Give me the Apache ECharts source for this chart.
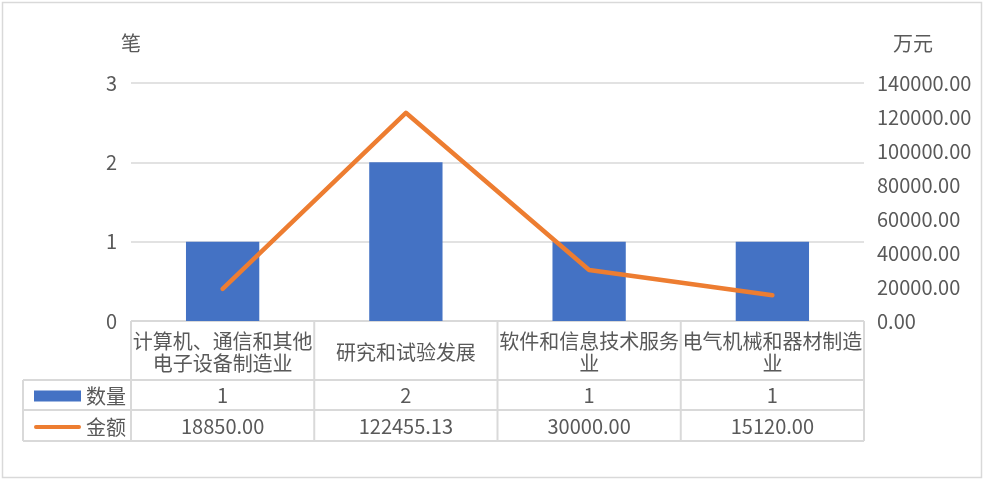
<!DOCTYPE html>
<html>
<head>
<meta charset="utf-8">
<script src="https://cdn.jsdelivr.net/npm/echarts@6/dist/echarts.min.js"></script>
<style>
  body { margin: 0; background: #fff; }
  #main { width: 984px; height: 480px; }
</style>
</head>
<body>
<div id="main"></div>
<script>
// 数据
const categories = ['计算机、通信和其他\n电子设备制造业', '研究和试验发展', '软件和信息技术服务\n业', '电气机械和器材制造\n业'];
const countData = [1, 2, 1, 1];
const amountData = [18850.00, 122455.13, 30000.00, 15120.00];
const countTicks = [0, 1, 2, 3];

// 布局
const G = { left: 131, right: 864, top: 83, bottom: 321 };
const rowY = [321, 380, 410, 441];
const legendLeft = 23;
const textColor = '#595959';
const lineColor = '#d9d9d9';
const font = 'Noto Sans CJK SC';

const chart = echarts.init(document.getElementById('main'));

// 表格线
const tableLines = [];
const colW = (G.right - G.left) / categories.length;
for (let i = 0; i <= categories.length; i++) {
  const x = G.left + colW * i;
  tableLines.push({ type: 'line', shape: { x1: x, y1: rowY[0], x2: x, y2: rowY[3] } });
}
tableLines.push({ type: 'line', shape: { x1: legendLeft, y1: rowY[1], x2: legendLeft, y2: rowY[3] } });
tableLines.push({ type: 'line', shape: { x1: G.left, y1: rowY[0], x2: G.right, y2: rowY[0] } });
for (let j = 1; j < rowY.length; j++) {
  tableLines.push({ type: 'line', shape: { x1: legendLeft, y1: rowY[j], x2: G.right, y2: rowY[j] } });
}
tableLines.forEach(l => { l.style = { stroke: lineColor, lineWidth: 2 }; l.silent = true; });

const hiddenAxis = { position: 'bottom', axisLine: { show: false }, axisTick: { show: false }, splitLine: { show: false } };
const labelBase = { color: textColor, fontSize: 20, fontFamily: font, interval: 0, verticalAlign: 'middle' };

const option = {
  animation: false,
  textStyle: { fontFamily: font },
  grid: {
    left: G.left, right: 984 - G.right, top: G.top, bottom: 480 - G.bottom,
    containLabel: false, outerBoundsMode: 'none'
  },
  legend: {
    orient: 'vertical',
    left: 29, top: 381,
    itemWidth: 47, itemHeight: 11, itemGap: 11,
    textStyle: { color: textColor, fontSize: 20, fontFamily: font },
    data: [
      { name: '数量', icon: 'rect' },
      { name: '金额', icon: 'path://M2,0 L48,0 A2,2 0 0 1 48,4 L2,4 A2,2 0 0 1 2,0 Z' }
    ]
  },
  xAxis: [
    Object.assign({
      type: 'category', data: categories,
      axisLabel: Object.assign({}, labelBase, { margin: 31, lineHeight: 22 })
    }, hiddenAxis),
    Object.assign({
      type: 'category', data: categories,
      axisLabel: Object.assign({}, labelBase, { margin: 74, formatter: (v, i) => String(countData[i]) })
    }, hiddenAxis),
    Object.assign({
      type: 'category', data: categories,
      axisLabel: Object.assign({}, labelBase, { margin: 105, formatter: (v, i) => amountData[i].toFixed(2) })
    }, hiddenAxis)
  ],
  yAxis: [
    {
      type: 'value', min: countTicks[0], max: countTicks[countTicks.length - 1], interval: 1,
      name: '笔', nameLocation: 'end', nameGap: 30,
      nameTextStyle: { color: textColor, fontSize: 20, fontFamily: font, align: 'center' },
      axisLine: { show: false }, axisTick: { show: false },
      axisLabel: { color: textColor, fontSize: 20, fontFamily: font, margin: 14 },
      splitLine: { lineStyle: { color: lineColor, width: 1.5 } }
    },
    {
      type: 'value', min: 0, max: 140000, interval: 20000,
      name: '万元', nameLocation: 'end', nameGap: 30,
      nameTextStyle: { color: textColor, fontSize: 20, fontFamily: font, align: 'left', padding: [0, 0, 0, 29] },
      axisLine: { show: false }, axisTick: { show: false },
      axisLabel: { color: textColor, fontSize: 20, fontFamily: font, margin: 13, formatter: v => v.toFixed(2) },
      splitLine: { show: false }
    }
  ],
  series: [
    {
      name: '数量', type: 'bar', data: countData, barWidth: '40%',
      itemStyle: { color: '#4472C4' }
    },
    {
      name: '金额', type: 'line', yAxisIndex: 1, data: amountData,
      symbol: 'none',
      lineStyle: { color: '#ED7D31', width: 4.5, cap: 'round', join: 'round' },
      itemStyle: { color: '#ED7D31' }
    }
  ],
  graphic: [
    {
      type: 'rect', silent: true,
      shape: { x: 2.5, y: 2.5, width: 979, height: 475 },
      style: { fill: 'none', stroke: lineColor, lineWidth: 1.5 }
    }
  ].concat(tableLines)
};

chart.setOption(option);
</script>
</body>
</html>
